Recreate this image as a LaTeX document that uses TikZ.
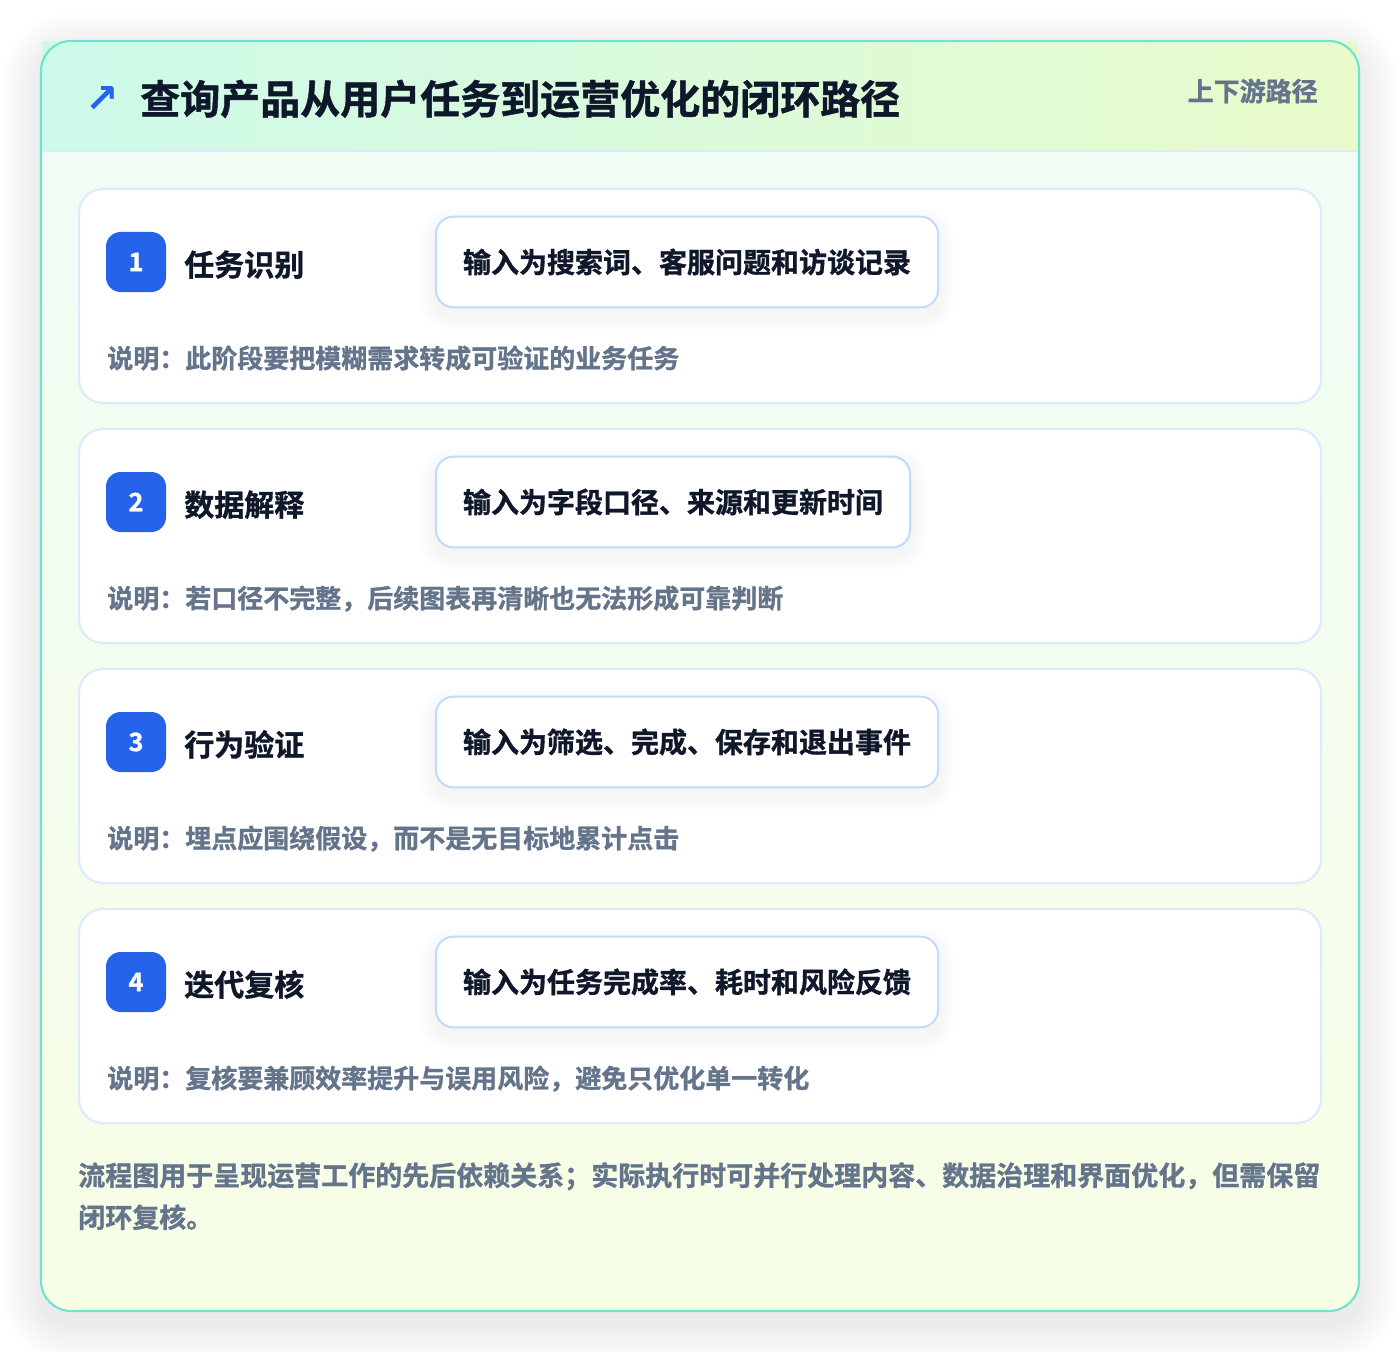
\documentclass[tikz,border=0pt]{standalone}
\usepackage{fontspec}
\setmainfont{Noto Sans CJK SC}[BoldFont={Noto Sans CJK SC Bold}, BoldFeatures={FakeBold=1.1}]
\newfontfamily\symfont{DejaVu Sans}
\definecolor{rim}{HTML}{6EE4CF}
\definecolor{headL}{HTML}{CDFAEA}
\definecolor{headR}{HTML}{E9FBCB}
\definecolor{bodyT}{HTML}{F0FCF7}
\definecolor{bodyB}{HTML}{F7FEE6}
\definecolor{cardline}{HTML}{DBEAFE}
\definecolor{boxline}{HTML}{BFDBFE}
\definecolor{badgeblue}{HTML}{2563EB}
\definecolor{ink}{HTML}{0F172A}
\definecolor{muted}{HTML}{64748B}
\pgfdeclarelayer{cardlayer}
\pgfdeclarelayer{shadelayer}
\pgfsetlayers{cardlayer,shadelayer,main}
\begin{document}
\begin{tikzpicture}[x=0.75pt, y=-0.75pt, font=\bfseries,
        stagebox/.style={draw=cardline, line width=1.5pt, fill=white, rounded corners=18pt},
        stagenum/.style={fill=badgeblue, text=white, rounded corners=11pt, minimum size=45pt, inner sep=0pt,
            font=\bfseries\fontsize{19pt}{19pt}\selectfont},
        stagetitle/.style={anchor=base west, inner sep=0pt, text=ink, font=\bfseries\fontsize{22.5pt}{27pt}\selectfont},
        inputbox/.style={anchor=west, draw=boxline, line width=1.5pt, fill=white, rounded corners=13pt,
            minimum height=68pt, inner xsep=20.25pt, text=ink, font=\bfseries\fontsize{21pt}{25pt}\selectfont},
        stagenote/.style={anchor=base west, inner sep=0pt, text=muted, font=\bfseries\fontsize{19.5pt}{24pt}\selectfont}]
        \useasboundingbox (0,0) rectangle (1400,1352);
        \begin{pgfonlayer}{cardlayer}
        \fill[white] (0,0) rectangle (1400,1352);
        \foreach \s in {1,...,20}
        {
            \fill[black, opacity=.0035, rounded corners=22.5+1.5*\s] (41-2*\s,41-2*\s+12) rectangle (1359+2*\s,1311+2*\s+12);
        }
        \fill[top color=bodyT, bottom color=bodyB, rounded corners=22.5pt] (41,41) rectangle (1359,1311);
        \shade[left color=headL, right color=headR] (42,42) rectangle (1358,151);
        \draw[cardline, line width=1.5pt] (42,151)--(1358,151);
        \draw[rim, line width=1.6pt, rounded corners=22.5pt] (41,41) rectangle (1359,1311);
        \end{pgfonlayer}
        \node[text=badgeblue, font=\symfont\bfseries\fontsize{30pt}{30pt}\selectfont] (icon) at (102,100) {↗};
        \node[anchor=base west, inner sep=0pt, text=ink, font=\bfseries\fontsize{30pt}{36pt}\selectfont] (heading) at (140,114) {查询产品从用户任务到运营优化的闭环路径};
        \node[anchor=base east, inner sep=0pt, text=muted, font=\bfseries\fontsize{19.5pt}{24pt}\selectfont] (tag) at (1318,101) {上下游路径};
        \foreach \n/\task/\feed/\remark in {1/任务识别/输入为搜索词、客服问题和访谈记录/说明：此阶段要把模糊需求转成可验证的业务任务,
            2/数据解释/输入为字段口径、来源和更新时间/说明：若口径不完整，后续图表再清晰也无法形成可靠判断,
            3/行为验证/输入为筛选、完成、保存和退出事件/说明：埋点应围绕假设，而不是无目标地累计点击,
            4/迭代复核/输入为任务完成率、耗时和风险反馈/说明：复核要兼顾效率提升与误用风险，避免只优化单一转化}
        {
            \pgfmathsetmacro\top{189+(\n-1)*240}
            \begin{pgfonlayer}{cardlayer}
            \draw[stagebox] (79,\top) rectangle (1321,\top+214);
            \end{pgfonlayer}
            \node[stagenum] (num\n) at (136,\top+73) {\n};
            \node[stagetitle] (title\n) at (184,\top+87) {\task};
            \node[inputbox] (input\n) at (435,\top+73) {\feed};
            \begin{pgfonlayer}{shadelayer}
            \foreach \k in {1,...,10}
            {
                \fill[black, opacity=.005, rounded corners=13+1.2*\k]
                    ([shift={(-1.6*\k,-1.6*\k+7)}]input\n.north west) rectangle ([shift={(1.6*\k,1.6*\k+7)}]input\n.south east);
            }
            \end{pgfonlayer}
            \node[stagenote] (remark\n) at (107,\top+179) {\remark};
        }
        \node[anchor=north west, inner sep=0pt, align=left, text=muted,
            font=\bfseries\fontsize{20.25pt}{31.5pt}\selectfont] (summary) at (78,1162)
            {流程图用于呈现运营工作的先后依赖关系；实际执行时可并行处理内容、数据治理和界面优化，但需保留\\闭环复核。};
\end{tikzpicture}
\end{document}
